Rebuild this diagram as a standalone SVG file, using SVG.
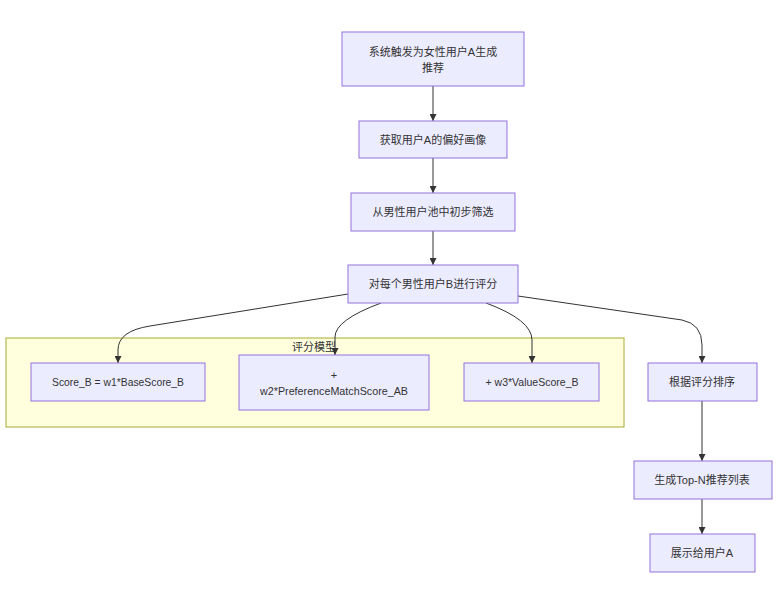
<svg xmlns="http://www.w3.org/2000/svg" width="780" height="599" viewBox="0 0 780 599">
<style>
.node rect{fill:#ECECFF;stroke:#9370DB;stroke-width:1}
.cluster rect{fill:#ffffde;stroke:#aaaa33;stroke-width:1}
text{font-family:"Liberation Sans","Noto Sans CJK SC",sans-serif;font-size:11px;fill:#333;text-anchor:middle;dominant-baseline:central}
.edges path{fill:none;stroke:#333;stroke-width:1}
</style>
<defs>
<marker id="arrow" viewBox="0 0 10 10" refX="10" refY="5" markerWidth="7" markerHeight="7" markerUnits="userSpaceOnUse" orient="auto">
<path d="M0,0 L10,5 L0,10 z" fill="#333"/>
</marker>
</defs>
<rect width="780" height="599" fill="#ffffff"/>
<g id="cluster-score" class="cluster">
<rect x="6" y="338" width="618" height="89"/>
<text x="314" y="347">评分模型</text>
</g>
<g class="edges">
<path d="M433,86 L433,121" marker-end="url(#arrow)"/>
<path d="M433,158 L433,193" marker-end="url(#arrow)"/>
<path d="M433,231 L433,265" marker-end="url(#arrow)"/>
<path d="M348,294 L150,326 Q118,331 118,350 L118,363" marker-end="url(#arrow)"/>
<path d="M381,303 Q335,320 335,337 L335,355" marker-end="url(#arrow)"/>
<path d="M486,303 Q532,320 532,340 L532,363" marker-end="url(#arrow)"/>
<path d="M518,296 L682,320 Q702,324 702,345 L702,363" marker-end="url(#arrow)"/>
<path d="M702,401 L702,461" marker-end="url(#arrow)"/>
<path d="M702,499 L702,534" marker-end="url(#arrow)"/>
</g>
<g id="n1" class="node">
<rect x="342" y="32" width="182" height="54"/>
<text x="433" y="52">系统触发为女性用户A生成</text>
<text x="433" y="68">推荐</text>
</g>
<g id="n2" class="node">
<rect x="359" y="121" width="148" height="37"/>
<text x="433" y="140">获取用户A的偏好画像</text>
</g>
<g id="n3" class="node">
<rect x="351" y="193" width="164" height="38"/>
<text x="433" y="212">从男性用户池中初步筛选</text>
</g>
<g id="n4" class="node">
<rect x="348" y="265" width="170" height="38"/>
<text x="433" y="284">对每个男性用户B进行评分</text>
</g>
<g id="s1" class="node">
<rect x="31" y="363" width="174" height="38"/>
<text x="118" y="382" textLength="132" lengthAdjust="spacingAndGlyphs">Score_B = w1*BaseScore_B</text>
</g>
<g id="s2" class="node">
<rect x="239" y="355" width="190" height="55"/>
<text x="334" y="375">+</text>
<text x="334" y="391" textLength="148" lengthAdjust="spacingAndGlyphs">w2*PreferenceMatchScore_AB</text>
</g>
<g id="s3" class="node">
<rect x="464" y="363" width="135" height="38"/>
<text x="532" y="382" textLength="93" lengthAdjust="spacingAndGlyphs">+ w3*ValueScore_B</text>
</g>
<g id="n5" class="node">
<rect x="648" y="363" width="109" height="38"/>
<text x="702" y="382">根据评分排序</text>
</g>
<g id="n6" class="node">
<rect x="634" y="461" width="138" height="38"/>
<text x="702" y="480">生成Top-N推荐列表</text>
</g>
<g id="n7" class="node">
<rect x="650" y="534" width="105" height="38"/>
<text x="702" y="553">展示给用户A</text>
</g>
</svg>
